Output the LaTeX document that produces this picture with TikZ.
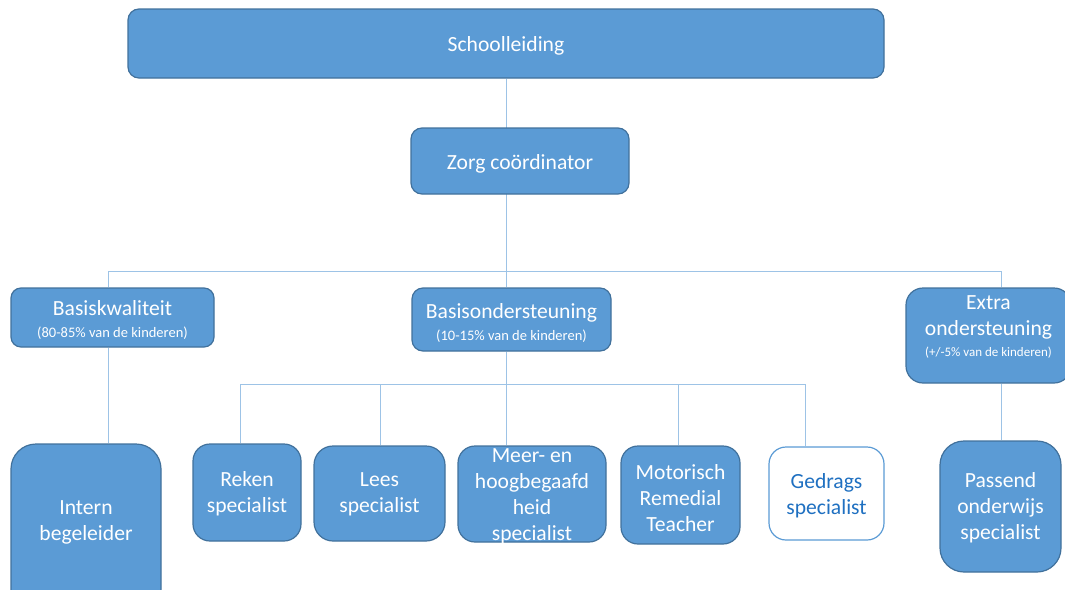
\documentclass[tikz,border=0pt]{standalone}
\usepackage{fontspec}
\setmainfont{Carlito}
\usetikzlibrary{backgrounds}
\definecolor{boxfill}{HTML}{5B9BD5}
\definecolor{boxline}{HTML}{41719C}
\definecolor{connc}{HTML}{9DC3E6}
\definecolor{gtext}{HTML}{1F70C1}
\tikzset{
  box/.style={draw=boxline, fill=boxfill, line width=1.2pt, inner sep=0pt, rounded corners=#1},
  whitebox/.style={draw=boxfill, fill=white, line width=1.2pt, inner sep=0pt, rounded corners=#1},
  txt/.style={text=white, align=center, inner sep=0pt, font=\fontsize{21.6}{26}\selectfont},
  conn/.style={draw=connc, line width=1pt},
}
\newcommand{\smalltxt}[1]{{\fontsize{14.5}{17}\selectfont #1}}
\begin{document}
\begin{tikzpicture}[x=1pt,y=-1pt]
\useasboundingbox (0,0) rectangle (1065,589);
\clip (0,0) rectangle (1065,589);
% boxes
\node[box=11, minimum width=756pt, minimum height=69pt] (school) at (506,43.5) {};
\node[box=11, minimum width=218pt, minimum height=66pt] (zorg) at (520,161) {};
\node[box=10, minimum width=203pt, minimum height=59pt] (bk) at (112.5,317.5) {};
\node[box=11, minimum width=199pt, minimum height=63pt] (bo) at (511.5,319.5) {};
\node[box=17, minimum width=165pt, minimum height=95pt] (ex) at (988.5,335.5) {};
\node[box=25, minimum width=150pt, minimum height=170pt] (ib) at (86,529) {};
\node[box=17, minimum width=108pt, minimum height=97pt] (rk) at (247,492.5) {};
\node[box=19, minimum width=131pt, minimum height=95pt] (ls) at (379.5,493.5) {};
\node[box=17, minimum width=148pt, minimum height=96pt] (mh) at (532,494) {};
\node[box=17, minimum width=119pt, minimum height=98pt] (mr) at (680.5,495) {};
\node[whitebox=17, minimum width=115pt, minimum height=93pt] (gs) at (826.5,493.5) {};
\node[box=24, minimum width=121pt, minimum height=131pt] (po) at (1000.5,506.5) {};
% texts
\node[txt] (school-t) at (506,46) {Schoolleiding};
\node[txt] (zorg-t) at (520,164) {Zorg coördinator};
\node[txt] (bk-t) at (112.5,320.5) {Basiskwaliteit\\[-4pt]\smalltxt{(80-85\% van de kinderen)}};
\node[txt] (bo-t) at (511.5,323.5) {Basisondersteuning\\[-4pt]\smalltxt{(10-15\% van de kinderen)}};
\node[txt] (ex-t) at (988.5,327) {Extra\\ondersteuning\\[-5pt]{\fontsize{13}{15}\selectfont(+/-5\% van de kinderen)}};
\node[txt] (ib-t) at (86,522) {Intern\\begeleider};
\node[txt] (rk-t) at (247,494) {Reken\\specialist};
\node[txt] (ls-t) at (379.5,494) {Lees\\specialist};
\node[txt] (mh-t) at (532,496.5) {Meer- en\\hoogbegaafd\\heid\\specialist};
\node[txt] (mr-t) at (680.5,498) {Motorisch\\Remedial\\Teacher};
\node[txt, text=gtext] (gs-t) at (826.5,496) {Gedrags\\specialist};
\node[txt] (po-t) at (1000.5,508) {Passend\\onderwijs\\specialist};
% connectors
\begin{pgfonlayer}{background}
\coordinate (c1) at (108,271);
\coordinate (c2) at (1001,271);
\coordinate (c3) at (506,271);
\coordinate (d1) at (240,384);
\coordinate (d2) at (805,384);
\coordinate (d3) at (506,384);
\coordinate (d4) at (380,384);
\coordinate (d5) at (678,384);
\draw[conn] (school.south) -- (school.south |- bo.north);
\draw[conn] (c1) -- (c2);
\draw[conn] (c1) -- (c1 |- bk.north);
\draw[conn] (c2) -- (c2 |- ex.north);
\draw[conn] (c3 |- bo.south) -- (d3);
\draw[conn] (d1) -- (d2);
\draw[conn] (d1) -- (d1 |- rk.north);
\draw[conn] (d4) -- (d4 |- ls.north);
\draw[conn] (d3) -- (d3 |- mh.north);
\draw[conn] (d5) -- (d5 |- mr.north);
\draw[conn] (d2) -- (d2 |- gs.north);
\draw[conn] (c1 |- bk.south) -- (c1 |- ib.north);
\draw[conn] (c2 |- ex.south) -- (c2 |- po.north);
\end{pgfonlayer}
\end{tikzpicture}
\end{document}
